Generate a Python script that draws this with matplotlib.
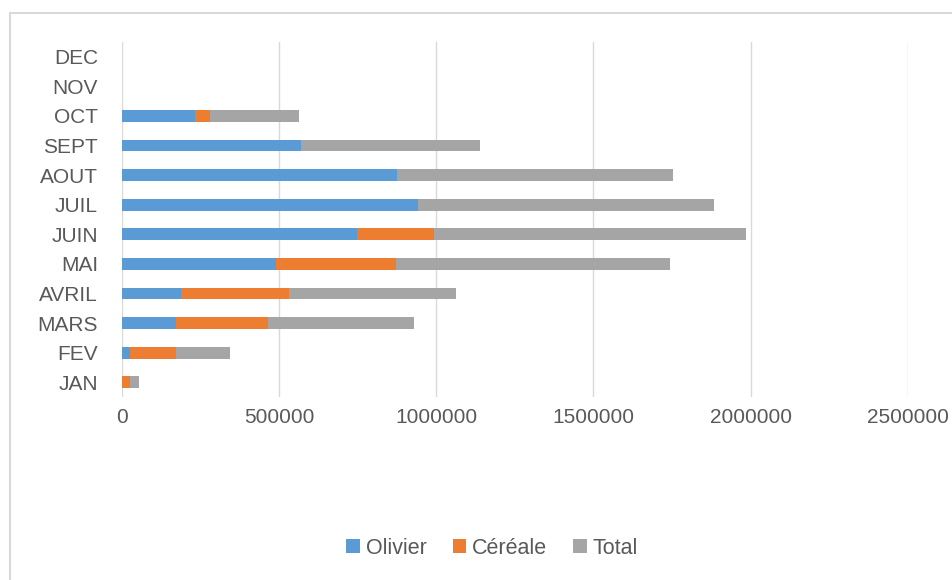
import matplotlib
matplotlib.use("Agg")
import matplotlib.pyplot as plt
from matplotlib.patches import Rectangle
import numpy as np

plt.rcParams['font.family'] = ['Liberation Sans', 'DejaVu Sans']

months = ["JAN", "FEV", "MARS", "AVRIL", "MAI", "JUIN", "JUIL", "AOUT", "SEPT", "OCT", "NOV", "DEC"]
olivier = [0, 27000, 173000, 190000, 490000, 748000, 942000, 876000, 570000, 234000, 0, 0]
cereale = [27000, 145000, 292000, 341000, 382000, 245000, 0, 0, 0, 48000, 0, 0]
total = [o + c for o, c in zip(olivier, cereale)]
x_ticks = [0, 500000, 1000000, 1500000, 2000000, 2500000]

c_oli = "#5b9bd5"
c_cer = "#ed7d31"
c_tot = "#a5a5a5"
txt = "#595959"

fig = plt.figure(figsize=(9.52, 5.8), dpi=100)
fig.patch.set_facecolor("white")

# chart frame
fig.patches.append(Rectangle((10 / 952, -0.05), 1.1, (580 - 13) / 580 + 0.05,
                             transform=fig.transFigure, fill=False,
                             edgecolor="#d9d9d9", linewidth=1.5, zorder=0))

ax = fig.add_axes([121.7 / 952, 1 - 397 / 580, (908 - 121.7) / 952, (397 - 42) / 580])
y = np.arange(len(months))
h = 0.4
ax.barh(y, olivier, height=h, color=c_oli, label="Olivier", zorder=3)
ax.barh(y, cereale, height=h, left=olivier, color=c_cer, label="Céréale", zorder=3)
left_tot = [o + c for o, c in zip(olivier, cereale)]
ax.barh(y, total, height=h, left=left_tot, color=c_tot, label="Total", zorder=3)

ax.set_xlim(0, 2500000)
ax.set_ylim(-0.5, len(months) - 0.5)
ax.set_xticks(x_ticks)
ax.set_xticklabels([str(v) for v in x_ticks])
ax.set_yticks(y)
ax.set_yticklabels(months)
ax.grid(axis="x", color="#d9d9d9", linewidth=1, zorder=0)
for s in ax.spines.values():
    s.set_visible(False)
ax.tick_params(axis="both", length=0, labelsize=15, colors=txt)
ax.tick_params(axis="x", pad=8)
ax.tick_params(axis="y", pad=17)

fig.legend(loc="center", bbox_to_anchor=(492 / 952, 1 - 548 / 580), ncol=3,
           frameon=False, fontsize=15.5, labelcolor=txt, handlelength=0.65,
           handleheight=0.65, handletextpad=0.25, columnspacing=1.2)

fig.savefig("out.png", dpi=100)
